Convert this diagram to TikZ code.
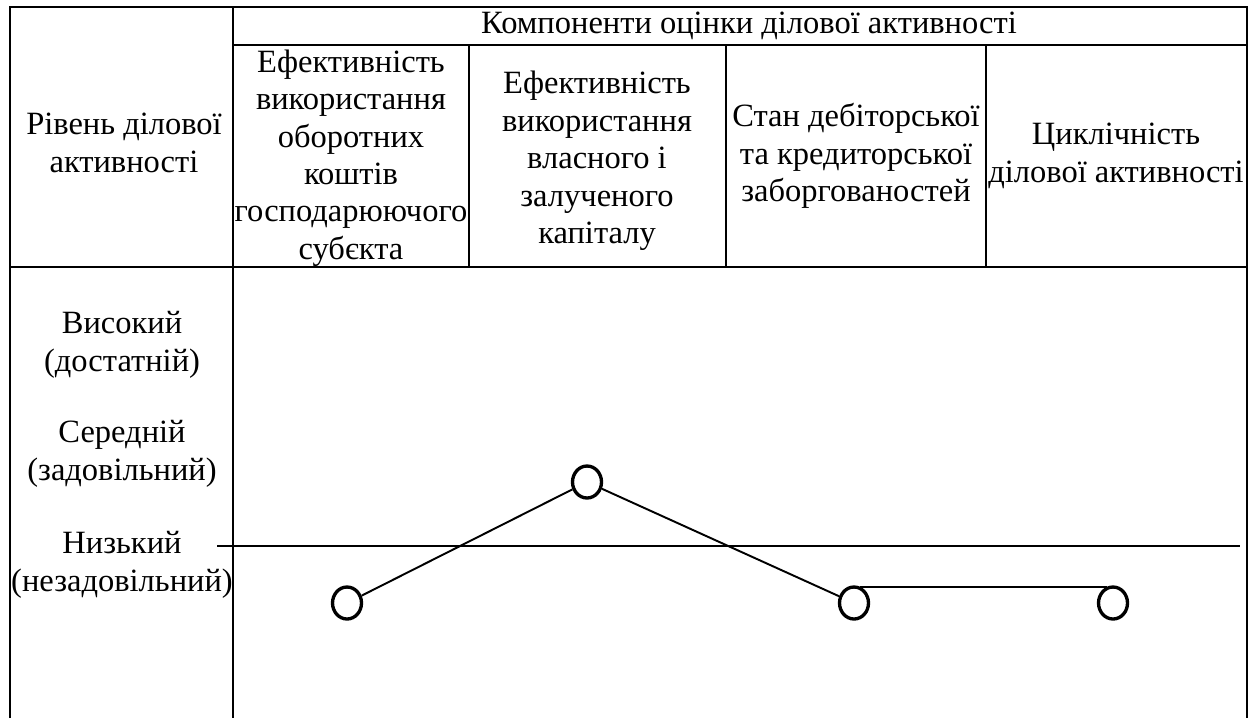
\documentclass[tikz,border=0pt]{standalone}
\usepackage{fontspec}
\setmainfont{Liberation Serif}
\usetikzlibrary{shapes,positioning}

\begin{document}
\begin{tikzpicture}[
    x=0.02cm, y=-0.02cm,
    cell/.style={align=center, font=\fontsize{18.5}{21.3}\selectfont, inner sep=0pt},
    level/.style={align=center, font=\fontsize{18.5}{21.3}\selectfont, inner sep=0pt},
    point/.style={ellipse, draw, line width=1.9pt, minimum width=0.58cm, minimum height=0.64cm, inner sep=0pt},
    grid/.style={line width=1.4pt},
    link/.style={line width=1.1pt}
]

\useasboundingbox (0,0) rectangle (1256,718);

% table
\draw[grid] (10,718) -- (10,7) -- (1247,7) -- (1247,718);
\draw[grid] (233,7) -- (233,718);
\draw[grid] (233,45) -- (1247,45);
\draw[grid] (10,267) -- (1247,267);
\draw[grid] (469,45) -- (469,267);
\draw[grid] (726,45) -- (726,267);
\draw[grid] (986,45) -- (986,267);

\node[cell] (comp) at (749, 26) {Компоненти оцінки ділової активності};
\node[cell] (rivel) at (124, 143) {Рівень ділової\\активності};
\node[cell] (obor) at (351, 158) {Ефективність\\використання\\оборотних\\коштів\\господарюючого\\субєкта};
\node[cell] (kapit) at (597, 161) {Ефективність\\використання\\власного і\\залученого\\капіталу};
\node[cell] (zabor) at (856, 156) {Стан дебіторської\\та кредиторської\\заборгованостей};
\node[cell] (cykl) at (1116, 156) {Циклічність\\ділової активності};

% levels
\node[level] (vys) at (122, 345) {Високий\\(достатній)};
\node[level] (ser) at (122, 454) {Середній\\(задовільний)};
\node[level] (nyz) at (122, 565) {Низький\\(незадовільний)};

\coordinate (lowL) at (217, 546);
\coordinate (lowR) at (1240, 546);
\draw[link] (lowL) -- (lowR);

% profile
\node[point] (p1) at (347, 603) {};
\node[point] (p2) at (587, 482) {};
\node[point] (p3) at (854, 603) {};
\node[point] (p4) at (1113, 603) {};

\draw[link] (p1) -- (p2);
\draw[link] (p2) -- (p3);
\draw[link] (p3.70) -- (p4.110);

\end{tikzpicture}
\end{document}
